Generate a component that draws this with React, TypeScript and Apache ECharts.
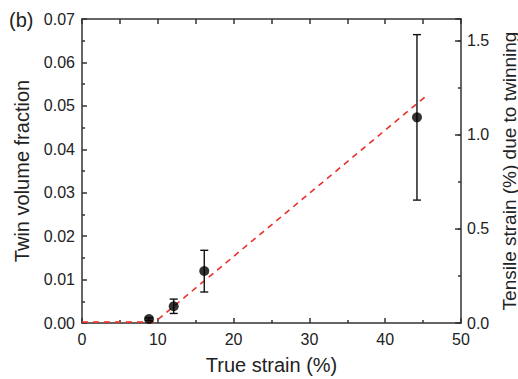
import React, { useEffect, useRef } from "react";
import * as echarts from "echarts";

const strain = [8.84, 12.1, 16.13, 44.19];
const fraction = [0.00092, 0.00385, 0.01197, 0.04736];
const errLow = [0.0006, 0.0022, 0.00714, 0.0283];
const errHigh = [0.0012, 0.0055, 0.01674, 0.0664];
const fitLine: [number, number][] = [
  [0, 0.0002],
  [9.6, 0.0002],
  [45.7, 0.0527],
];
const rightMax = 1.617;

export default function App() {
  const ref = useRef<HTMLDivElement>(null);
  useEffect(() => {
    if (!ref.current) return;
    const chart = echarts.init(ref.current, null, { renderer: "svg" });
    const font = "'Liberation Sans', Arial, sans-serif";
    const axisColor = "#333";
    const lineStyle = { color: axisColor, width: 1.5 };
    const axisLine = { show: true, onZero: false, lineStyle };
    chart.setOption({
      animation: false,
      textStyle: { fontFamily: font },
      grid: { left: 82, right: 57, top: 19, bottom: 56, outerBoundsMode: "none", containLabel: false },
      graphic: [
        {
          type: "text",
          left: 9,
          top: 10,
          style: { text: "(b)", font: `20px ${font}`, fill: "#222" },
        },
      ],
      xAxis: [
        {
          type: "value",
          min: 0,
          max: 50,
          interval: 10,
          position: "bottom",
          name: "True strain (%)",
          nameLocation: "middle",
          nameGap: 32,
          nameTextStyle: { fontSize: 20, color: "#222", fontFamily: font },
          axisLine,
          axisTick: { show: true, inside: true, length: 5, lineStyle },
          minorTick: { show: true, splitNumber: 2, length: 3, lineStyle },
          axisLabel: { fontSize: 16, color: "#222", margin: 8, fontFamily: font },
          splitLine: { show: false },
        },
        {
          type: "value",
          min: 0,
          max: 50,
          interval: 10,
          position: "top",
          axisLine,
          axisTick: { show: true, inside: true, length: 5, lineStyle },
          minorTick: { show: true, splitNumber: 2, length: 5, lineStyle },
          axisLabel: { show: false },
          splitLine: { show: false },
        },
      ],
      yAxis: [
        {
          type: "value",
          min: 0,
          max: 0.07,
          interval: 0.01,
          position: "left",
          name: "Twin volume fraction",
          nameLocation: "middle",
          nameGap: 50,
          nameTextStyle: { fontSize: 20, color: "#222", fontFamily: font },
          axisLine,
          axisTick: { show: true, inside: true, length: 5, lineStyle },
          minorTick: { show: true, splitNumber: 2, length: 3, lineStyle },
          axisLabel: {
            fontSize: 16,
            color: "#222",
            margin: 7,
            fontFamily: font,
            formatter: (v: number) => v.toFixed(2),
          },
          splitLine: { show: false },
        },
        {
          type: "value",
          min: 0,
          max: rightMax,
          interval: 0.5,
          position: "right",
          name: "Tensile strain (%) due to twinning",
          nameLocation: "middle",
          nameGap: 33,
          nameRotate: 90,
          nameTextStyle: { fontSize: 19, color: "#222", fontFamily: font },
          axisLine,
          axisTick: { show: true, inside: true, length: 6, lineStyle },
          axisLabel: {
            fontSize: 16,
            color: "#222",
            margin: 6,
            fontFamily: font,
            formatter: (v: number) =>
              Math.abs(v / 0.5 - Math.round(v / 0.5)) < 1e-6 ? v.toFixed(1) : "",
          },
          splitLine: { show: false },
        },
        {
          type: "value",
          min: 0,
          max: rightMax,
          interval: 0.25,
          position: "right",
          axisLine: { show: false, onZero: false },
          axisTick: { show: true, inside: true, length: 3, lineStyle },
          axisLabel: { show: false },
          splitLine: { show: false },
        },
      ],
      series: [
        {
          type: "line",
          data: fitLine,
          symbol: "none",
          lineStyle: { color: "#e8302a", width: 1.6, type: [6, 5] },
          z: 2,
        },
        {
          type: "custom",
          data: strain.map((x, i) => [x, errLow[i], errHigh[i]]),
          renderItem: (params: any, api: any) => {
            const x = api.value(0);
            const p1 = api.coord([x, api.value(2)]);
            const p2 = api.coord([x, api.value(1)]);
            const w = 4;
            const st = { stroke: "#111", lineWidth: 1.4 };
            return {
              type: "group",
              children: [
                { type: "line", shape: { x1: p1[0], y1: p1[1], x2: p2[0], y2: p2[1] }, style: st },
                { type: "line", shape: { x1: p1[0] - w, y1: p1[1], x2: p1[0] + w, y2: p1[1] }, style: st },
                { type: "line", shape: { x1: p2[0] - w, y1: p2[1], x2: p2[0] + w, y2: p2[1] }, style: st },
              ],
            };
          },
          z: 3,
        },
        {
          type: "scatter",
          data: strain.map((x, i) => [x, fraction[i]]),
          symbol: "circle",
          symbolSize: 10,
          itemStyle: { color: "#000" },
          z: 4,
        },
      ],
    });
    return () => chart.dispose();
  }, []);
  return (
    <div
      ref={ref}
      style={{ position: "fixed", left: 0, top: 0, width: 518, height: 379, background: "#fff" }}
    />
  );
}
